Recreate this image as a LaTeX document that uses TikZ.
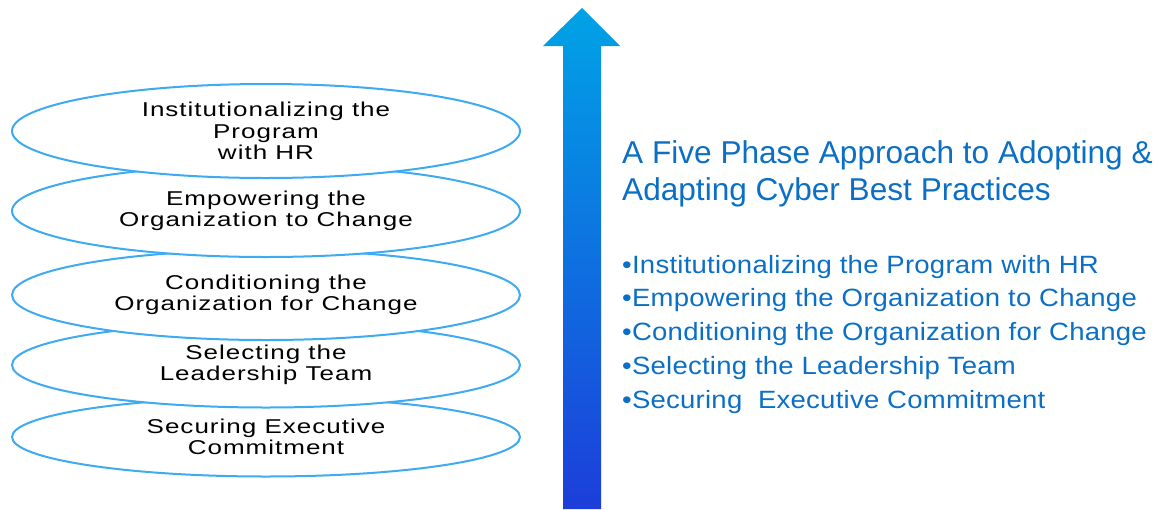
\documentclass[tikz,border=0pt]{standalone}
\usepackage{fontspec}
\setmainfont{Liberation Sans}
\newfontfamily\phasefont[FakeStretch=1.3,LetterSpace=5]{Liberation Sans}
\newfontfamily\listfont[FakeStretch=1.1,LetterSpace=1]{Liberation Sans}
\usetikzlibrary{shapes.geometric}
\definecolor{ringblue}{HTML}{3DAAF2}
\definecolor{textblue}{HTML}{0B6FC6}
\definecolor{arrowtop}{HTML}{00A3E6}
\definecolor{arrowbot}{HTML}{1C3EDA}

\begin{document}
\begin{tikzpicture}[x=1pt,y=-1pt]
		\tikzstyle{phase}=[ellipse, draw=ringblue, line width=2pt, fill=white, minimum width=508pt, inner sep=0pt, align=center, font=\phasefont\fontsize{20}{21.5}\selectfont]
		\tikzstyle{item}=[anchor=base west, inner sep=0pt, text=textblue, font=\listfont\fontsize{25}{30}\selectfont]
		\tikzstyle{heading}=[anchor=base west, inner sep=0pt, text=textblue, font=\fontsize{31.6}{37}\selectfont]
		
		\useasboundingbox (0,0) rectangle (1157,509);
		
		% Arrow
		\shade[top color=arrowtop, bottom color=arrowbot] (582,8) -- (620,46) -- (601,46) -- (601,509) -- (563,509) -- (563,46) -- (543,46) -- cycle;
		
		% Phases (bottom one first)
		\foreach \x/\y/\h/\t in {5/437/79/{Securing Executive\\Commitment},
			4/365/85/{Selecting the\\Leadership Team},
			3/295/90/{Conditioning the\\Organization for Change},
			2/211/92/{Empowering the\\Organization to Change},
			1/131/94/{Institutionalizing the\\Program\\with HR}}
		\node at (266,\y) [phase, minimum height=\h pt] (phase_\x) {\t};
		
		% Title
		\node at (622,163) [heading] (title_1) {A Five Phase Approach to Adopting \&};
		\node at (622,200) [heading] (title_2) {Adapting Cyber Best Practices};
		
		% List
		\foreach \x/\y/\t in {1/273/{Institutionalizing the Program with HR},
			2/306/{Empowering the Organization to Change},
			3/340/{Conditioning the Organization for Change},
			4/374/{Selecting the Leadership Team},
			5/408/{Securing\ \ Executive Commitment}}
		\node at (622,\y) [item] (item_\x) {•\t};
\end{tikzpicture}
\end{document}
